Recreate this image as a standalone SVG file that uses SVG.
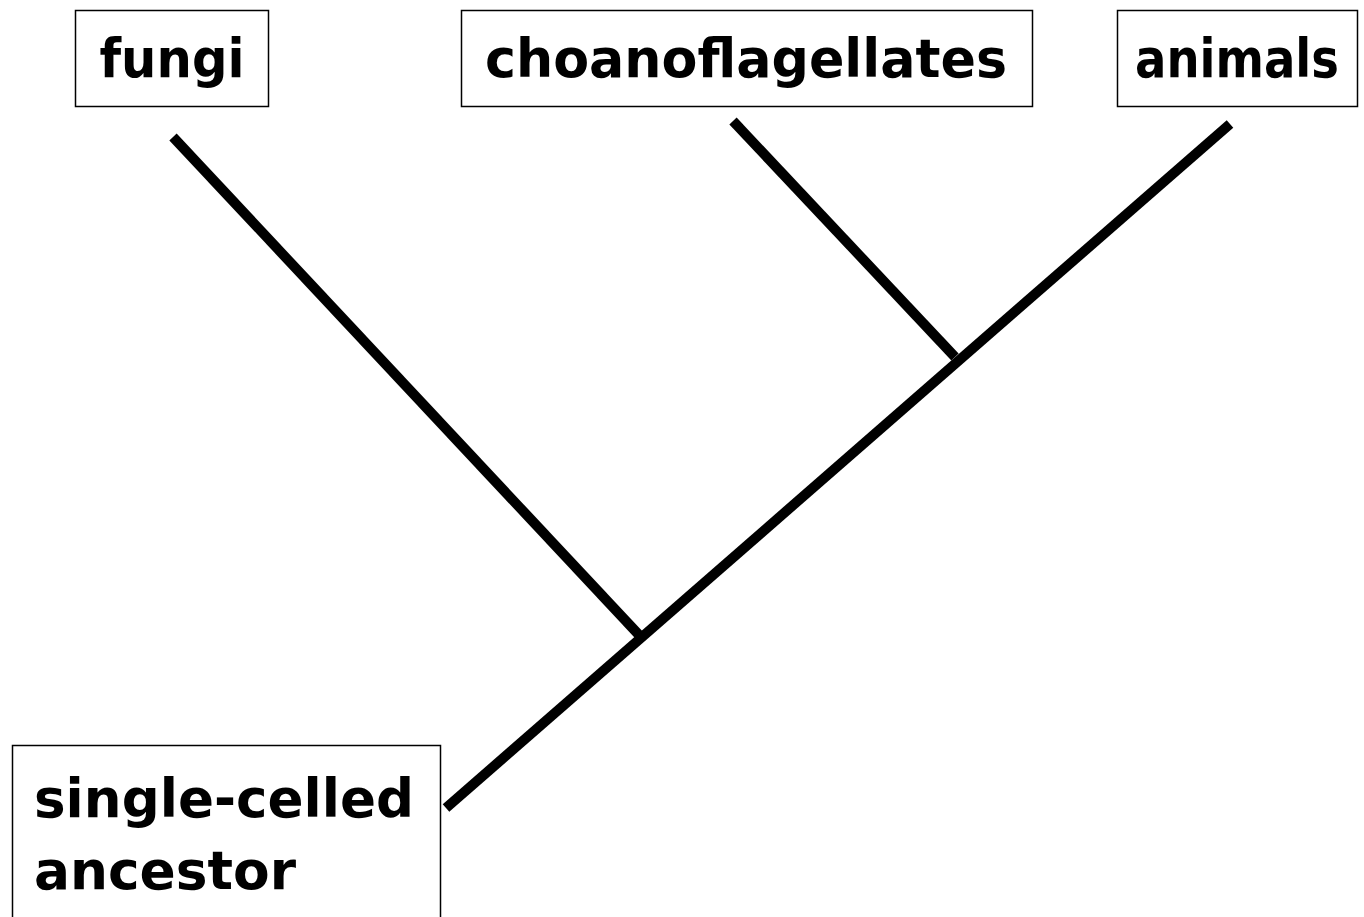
<svg xmlns="http://www.w3.org/2000/svg" width="1364" height="917" viewBox="0 0 1364 917">
  <style>
    .box { fill: #ffffff; stroke: #000000; stroke-width: 1.5; }
    .label { font-family: "Comic Sans MS", "DejaVu Sans", "Liberation Sans", sans-serif; font-weight: bold; font-size: 54px; fill: #000000; }
    .branch { stroke: #000000; stroke-width: 10; stroke-linecap: butt; fill: none; }
  </style>
  <rect x="0" y="0" width="1364" height="917" fill="#ffffff"/>

  <!-- tree branches -->
  <g id="connectors">
    <line class="branch" x1="446" y1="808" x2="1230" y2="124"/>
    <line class="branch" x1="173" y1="137" x2="640" y2="636"/>
    <line class="branch" x1="733" y1="121" x2="955" y2="357"/>
  </g>

  <g id="node-fungi">
    <rect class="box" x="75.5" y="10.5" width="193" height="96"/>
    <text class="label" x="172" y="77" text-anchor="middle" textLength="145" lengthAdjust="spacingAndGlyphs">fungi</text>
  </g>

  <g id="node-choanoflagellates">
    <rect class="box" x="461.5" y="10.5" width="571" height="96"/>
    <text class="label" x="746" y="77" text-anchor="middle" textLength="522" lengthAdjust="spacingAndGlyphs">choanoflagellates</text>
  </g>

  <g id="node-animals">
    <rect class="box" x="1117.5" y="10.5" width="240" height="96"/>
    <text class="label" x="1237" y="77" text-anchor="middle" textLength="204" lengthAdjust="spacingAndGlyphs">animals</text>
  </g>

  <g id="node-ancestor">
    <rect class="box" x="12.5" y="745.5" width="428" height="180"/>
    <text class="label" x="34" y="817" textLength="380" lengthAdjust="spacingAndGlyphs">single-celled</text>
    <text class="label" x="34" y="889" textLength="262" lengthAdjust="spacingAndGlyphs">ancestor</text>
  </g>
</svg>
